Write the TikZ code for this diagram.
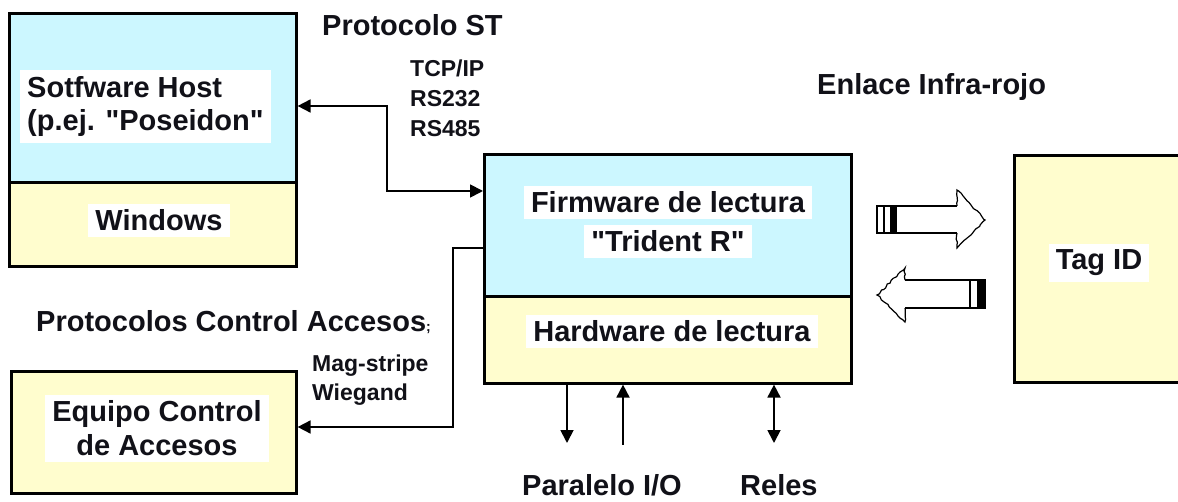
\documentclass[tikz,border=0pt]{standalone}
\usepackage{fontspec}
\setmainfont{Liberation Sans}[Ligatures=TeXOff]
\usetikzlibrary{arrows.meta,decorations.pathmorphing}
\definecolor{cyanbg}{RGB}{204,247,255}
\definecolor{yellowbg}{RGB}{255,253,206}
\definecolor{inkc}{RGB}{17,17,24}
\begin{document}
\begin{tikzpicture}[x=1pt,y=-1pt,
  big/.style={font=\fontsize{29}{33.5}\selectfont\bfseries, text=inkc, inner sep=0pt},
  small/.style={font=\fontsize{23}{28}\selectfont\bfseries, text=inkc, inner sep=0pt},
  hl/.style={fill=white, inner xsep=7pt, inner ysep=6pt},
  part/.style={draw=black, line width=2.6pt, anchor=north west, inner sep=0pt},
  conn/.style={line width=1.8pt},
  tipr/.style={-{Triangle[length=13pt,width=13pt]}},
  tipb/.style={{Triangle[length=13pt,width=13pt]}-{Triangle[length=13pt,width=13pt]}},
  tipl/.style={{Triangle[length=13pt,width=13pt]}-},
  bodyline/.style={line width=1.5pt},
  headline/.style={line width=1.2pt, decorate, decoration={random steps, segment length=3pt, amplitude=0.9pt}},
]
\useasboundingbox (0,0) rectangle (1178,502);
\fill[white] (0,0) rectangle (1178,502);

% ---- boxes ----
\node[part, fill=cyanbg, minimum width=287, minimum height=169] (hostup) at (8,12) {};
\node[part, fill=yellowbg, minimum width=287, minimum height=84] (hostlow) at (8,181) {};
\node[part, fill=cyanbg, minimum width=367, minimum height=142] (rdup) at (483,153) {};
\node[part, fill=yellowbg, minimum width=367, minimum height=87] (rdlow) at (483,295) {};
\node[part, fill=yellowbg, minimum width=285, minimum height=122] (acc) at (10,370) {};
\node[part, fill=yellowbg, minimum width=174, minimum height=227] (tag) at (1013,154) {};

% ---- box texts ----
\node[big, hl, align=left, anchor=west] (hosttxt) at (20,106.4) {Sotfware Host\\(p.ej. "Poseidon"};
\node[big, hl, anchor=base] (wintxt) at (159,231) {Windows};
\node[big, hl, anchor=base] (fw1) at (668,213) {Firmware de lectura};
\node[big, hl, anchor=base] (fw2) at (668,252) {"Trident R"};
\node[big, hl, anchor=base] (hwtxt) at (672,342) {Hardware de lectura};
\node[big, hl, align=center] (acctxt) at (157,428.3) {Equipo Control\\de Accesos};
\node[big, hl, anchor=base] (tagtxt) at (1099,270) {Tag ID};

% ---- free labels ----
\node[big, anchor=base west] (protst) at (322,36) {Protocolo ST};
\node[small, anchor=base west] (l1) at (410,77) {TCP/IP};
\node[small, anchor=base west] (l2) at (410,107) {RS232};
\node[small, anchor=base west] (l3) at (410,137) {RS485};
\node[big, anchor=base west] (enl) at (817,95) {Enlace Infra-rojo};
\node[big, anchor=base west] (protca) at (36,332) {Protocolos Control Accesos{\fontsize{14}{14}\selectfont;}};
\node[small, anchor=base west] (l4) at (312,372) {Mag-stripe};
\node[small, anchor=base west] (l5) at (312,400) {Wiegand};
\node[big, anchor=base west] (par) at (522,495) {Paralelo I/O};
\node[big, anchor=base west] (rel) at (740,495) {Reles};

% ---- connectors ----
\coordinate (c1a) at (387,106);
\coordinate (c1b) at (387,191);
\draw[conn, tipb] (hostup.east |- c1a) -- (c1a) -- (c1b) -- (rdup.west |- c1b);
\coordinate (c2a) at (453,248);
\coordinate (c2b) at (453,427);
\draw[conn, tipr] (rdup.west |- c2a) -- (c2a) -- (c2b) -- (acc.east |- c2b);

\coordinate (p1) at (567,443);
\coordinate (p2) at (623,445);
\coordinate (p3) at (774,443);
\draw[conn, tipr] (rdlow.south -| p1) -- (p1);
\draw[conn, tipl] (rdlow.south -| p2) -- (p2);
\draw[conn, tipb] (rdlow.south -| p3) -- (p3);

% ---- infrared block arrows ----
\fill[white] (877,206) -- (957,206) -- (957,190) -- (985,220) -- (957,248) -- (957,233) -- (877,233) -- cycle;
\draw[bodyline] (957,206) -- (877,206) -- (877,233) -- (957,233);
\draw[headline] (957,206) -- (957,190) -- (985,220) -- (957,248) -- (957,233);
\draw[bodyline] (884,206) -- (884,233);
\fill (890,206) rectangle (897,233);

\fill[white] (985,280) -- (905,280) -- (905,268) -- (877,295) -- (905,322) -- (905,308) -- (985,308) -- cycle;
\draw[bodyline] (905,280) -- (985,280) -- (985,308) -- (905,308);
\draw[headline] (905,280) -- (905,268) -- (877,295) -- (905,322) -- (905,308);
\draw[bodyline] (970,280) -- (970,308);
\fill (977,280) rectangle (985,308);
\end{tikzpicture}
\end{document}
